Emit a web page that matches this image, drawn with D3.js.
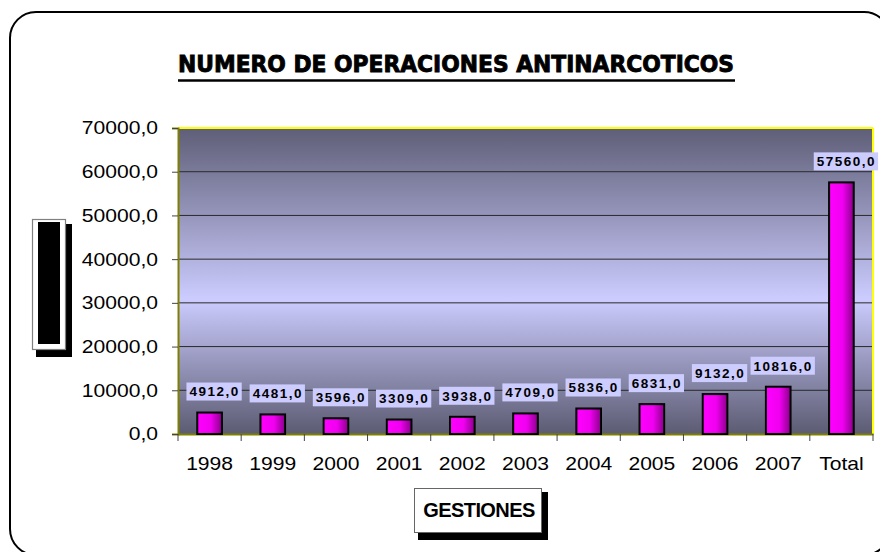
<!DOCTYPE html>
<html lang="es">
<head>
<meta charset="UTF-8">
<title>Numero de operaciones antinarcoticos</title>
<script src="https://cdn.jsdelivr.net/npm/d3@7"></script>
<style>
  html, body { margin: 0; padding: 0; background: #ffffff; }
  svg { display: block; }
  .tick text { font-family: "Liberation Sans", Arial, sans-serif; fill: #000; }
</style>
</head>
<body>
<div id="chart"></div>
<script>
// data
const years = ["1998", "1999", "2000", "2001", "2002", "2003", "2004", "2005", "2006", "2007", "Total"];
const operations = [4912, 4481, 3596, 3309, 3938, 4709, 5836, 6831, 9132, 10816, 57560];
const yTicks = [0, 10000, 20000, 30000, 40000, 50000, 60000, 70000];

const W = 880, H = 552;
const plot = { left: 178, right: 873, top: 128, bottom: 434 };

const svg = d3.select("#chart").append("svg")
    .attr("width", W)
    .attr("height", H);

const defs = svg.append("defs");

// plot area: dark at top and bottom, light lavender a little below the middle
const bg = defs.append("linearGradient")
    .attr("id", "plotBg")
    .attr("x1", 0).attr("y1", 0).attr("x2", 0).attr("y2", 1);
bg.append("stop").attr("offset", "0%").attr("stop-color", "#5e5e77");
bg.append("stop").attr("offset", "56%").attr("stop-color", "#ccccff");
bg.append("stop").attr("offset", "100%").attr("stop-color", "#5b5b72");

// bars: magenta fading to dark purple on the right side
const barFill = defs.append("linearGradient")
    .attr("id", "barFill")
    .attr("x1", 0).attr("y1", 0).attr("x2", 1).attr("y2", 0);
barFill.append("stop").attr("offset", "0%").attr("stop-color", "#ff00ff");
barFill.append("stop").attr("offset", "55%").attr("stop-color", "#f000f0");
barFill.append("stop").attr("offset", "100%").attr("stop-color", "#8a008a");

// outer rounded frame (runs off the right and bottom a bit)
svg.append("rect")
    .attr("x", 10).attr("y", 12)
    .attr("width", 880).attr("height", 543)
    .attr("rx", 26).attr("ry", 26)
    .attr("fill", "none")
    .attr("stroke", "#000")
    .attr("stroke-width", 2);

const x = d3.scaleBand()
    .domain(years)
    .range([plot.left, plot.right])
    .padding(0);

const y = d3.scaleLinear()
    .domain([0, 70000])
    .range([plot.bottom, plot.top]);

const fmt = v => d3.format(".1f")(v).replace(".", ",");

// background
svg.append("rect")
    .attr("x", plot.left).attr("y", plot.top)
    .attr("width", plot.right - plot.left)
    .attr("height", plot.bottom - plot.top)
    .attr("fill", "url(#plotBg)");

// gridlines
svg.append("g")
    .selectAll("line")
    .data(yTicks.filter(t => t > 0 && t < 70000))
    .join("line")
    .attr("x1", plot.left).attr("x2", plot.right)
    .attr("y1", d => y(d)).attr("y2", d => y(d))
    .attr("stroke", "#2a2a2a")
    .attr("stroke-width", 1);

// plot border: yellow top/right, olive left/bottom
svg.append("line")
    .attr("x1", plot.left).attr("x2", plot.right)
    .attr("y1", plot.top).attr("y2", plot.top)
    .attr("stroke", "#ffff00").attr("stroke-width", 2);
svg.append("line")
    .attr("x1", plot.right).attr("x2", plot.right)
    .attr("y1", plot.top).attr("y2", plot.bottom)
    .attr("stroke", "#ffff00").attr("stroke-width", 2);

// y axis
const yAxis = svg.append("g")
    .attr("transform", `translate(${plot.left},0)`)
    .call(d3.axisLeft(y).tickValues(yTicks).tickFormat(fmt).tickSize(6).tickPadding(14));
yAxis.select(".domain").attr("stroke", "#808000").attr("stroke-width", 2);
yAxis.selectAll(".tick line").attr("stroke", "#444");
yAxis.selectAll(".tick text").attr("font-size", 18.5);

// x axis: labels centred, ticks on the category boundaries
const xAxis = svg.append("g")
    .attr("transform", `translate(0,${plot.bottom})`)
    .call(d3.axisBottom(x).tickSize(0).tickPadding(23));
xAxis.select(".domain").attr("stroke", "#808000").attr("stroke-width", 2);
xAxis.selectAll(".tick text").attr("font-size", 18.5);

svg.append("g")
    .selectAll("line")
    .data(years.map(d => x(d)).concat([plot.right]))
    .join("line")
    .attr("x1", d => d).attr("x2", d => d)
    .attr("y1", plot.bottom).attr("y2", plot.bottom + 7)
    .attr("stroke", "#444");

// the picture is a little stretched sideways, widen the axis texts to match
svg.selectAll(".tick text").each(function () {
    const w = this.getComputedTextLength();
    d3.select(this).attr("textLength", w * 1.14).attr("lengthAdjust", "spacingAndGlyphs");
});

// bars
const barW = x.bandwidth() * 0.39;
svg.append("g")
    .selectAll("rect")
    .data(operations)
    .join("rect")
    .attr("x", (d, i) => x(years[i]) + (x.bandwidth() - barW) / 2)
    .attr("y", d => y(d))
    .attr("width", barW)
    .attr("height", d => plot.bottom - y(d))
    .attr("fill", "url(#barFill)")
    .attr("stroke", "#000")
    .attr("stroke-width", 2);

// value labels on lavender boxes
const labels = svg.append("g")
    .selectAll("g")
    .data(operations)
    .join("g")
    .attr("transform", (d, i) => `translate(${x(years[i]) + x.bandwidth() / 2 + 5},${y(d) - 21})`);

labels.append("text")
    .attr("text-anchor", "middle")
    .attr("dy", "0.36em")
    .attr("font-family", "'Liberation Sans', Arial, sans-serif")
    .attr("font-weight", "bold")
    .attr("font-size", 13.5)
    .attr("letter-spacing", 1.5)
    .attr("fill", "#000")
    .text(d => fmt(d));

labels.each(function () {
    const t = d3.select(this).select("text").node();
    const b = t.getBBox();
    d3.select(this).insert("rect", "text")
        .attr("x", b.x - 3)
        .attr("y", -9)
        .attr("width", b.width + 5)
        .attr("height", 18)
        .attr("fill", "#ccccff");
});

// title with underline
svg.append("text")
    .attr("x", 178)
    .attr("y", 72)
    .attr("font-family", "'DejaVu Sans', Verdana, sans-serif")
    .attr("font-weight", "bold")
    .attr("font-size", 23)
    .attr("textLength", 556)
    .attr("lengthAdjust", "spacingAndGlyphs")
    .attr("fill", "#000")
    .attr("stroke", "#000")
    .attr("stroke-width", 0.9)
    .text("NUMERO DE OPERACIONES ANTINARCOTICOS");

svg.append("line")
    .attr("x1", 178).attr("x2", 735)
    .attr("y1", 80.5).attr("y2", 80.5)
    .attr("stroke", "#000")
    .attr("stroke-width", 2.5);

// y axis title box (rendered black in the original)
svg.append("rect")
    .attr("x", 36).attr("y", 224).attr("width", 36).attr("height", 133)
    .attr("fill", "#000");
svg.append("rect")
    .attr("x", 32.5).attr("y", 219.5).attr("width", 33).attr("height", 130)
    .attr("fill", "#fff")
    .attr("stroke", "#808080")
    .attr("stroke-width", 1.2);
svg.append("rect")
    .attr("x", 38).attr("y", 222).attr("width", 22).attr("height", 122)
    .attr("fill", "#000");

// x axis title box
svg.append("rect")
    .attr("x", 418).attr("y", 492).attr("width", 130).attr("height", 48)
    .attr("fill", "#000");
svg.append("rect")
    .attr("x", 414.5).attr("y", 488.5).attr("width", 127).attr("height", 44)
    .attr("fill", "#fff")
    .attr("stroke", "#666")
    .attr("stroke-width", 1);
svg.append("text")
    .attr("x", 479)
    .attr("y", 517)
    .attr("text-anchor", "middle")
    .attr("font-family", "'Liberation Sans', Arial, sans-serif")
    .attr("font-weight", "bold")
    .attr("font-size", 20)
    .attr("letter-spacing", -0.6)
    .attr("fill", "#000")
    .text("GESTIONES");
</script>
</body>
</html>
